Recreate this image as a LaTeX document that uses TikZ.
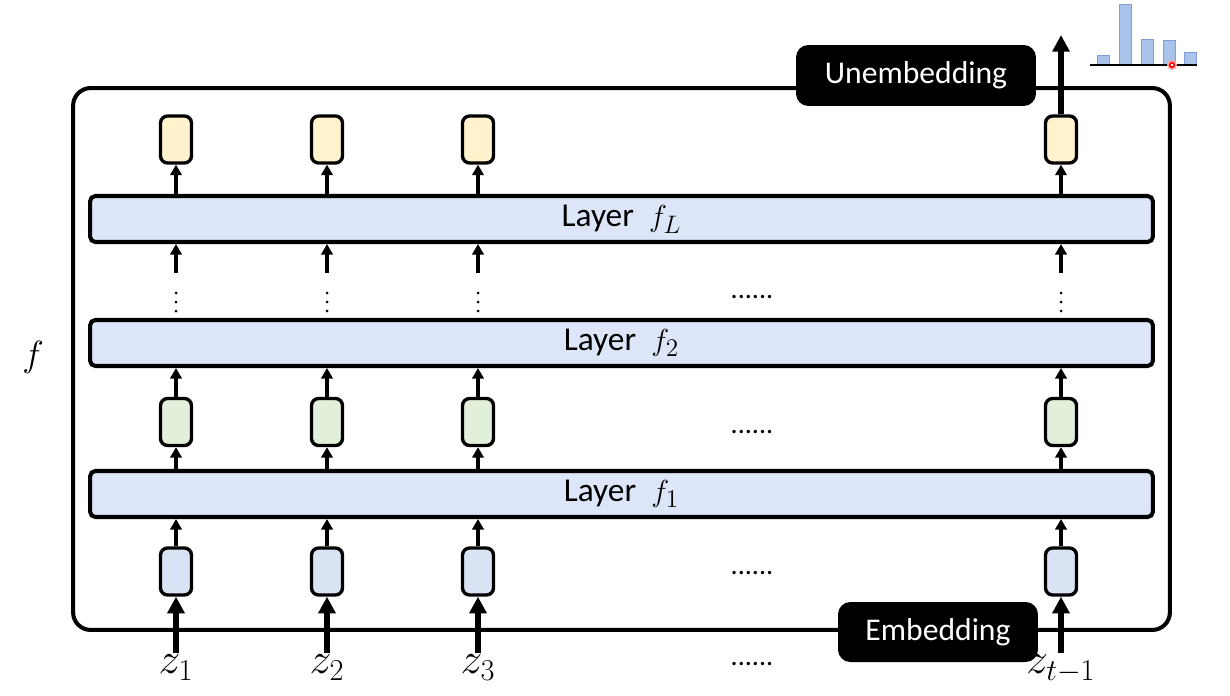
\documentclass[tikz,border=0pt]{standalone}
\usepackage{fontspec}
\usepackage{tikz}
\usetikzlibrary{arrows.meta,calc,positioning}
\newfontfamily\labelfont{Carlito}
\definecolor{layerBlue}{HTML}{DDE6F8}
\definecolor{tokBlue}{HTML}{DAE3F3}
\definecolor{tokGreen}{HTML}{E2EFDA}
\definecolor{tokYellow}{HTML}{FFF2CC}
\definecolor{barBlue}{HTML}{A9C3EA}
\definecolor{barEdge}{HTML}{7F9FD6}

\begin{document}
\begin{tikzpicture}[
    x=0.02cm, y=-0.02cm,
    >={Triangle[length=6pt,width=6.5pt]},
    layer/.style={draw,line width=2.3pt,rounded corners=3pt,fill=layerBlue,
      minimum width=21.26cm,minimum height=0.92cm,inner sep=0pt,
      font=\labelfont\fontsize{19}{22}\selectfont},
    token/.style={draw,line width=1.9pt,rounded corners=4pt,
      minimum width=0.62cm,minimum height=0.94cm,inner sep=0pt},
    tag/.style={fill=black,rounded corners=7pt,text=white,inner sep=0pt,
      font=\labelfont\fontsize{18}{22}\selectfont},
    flow/.style={->,line width=2pt},
    bigflow/.style={-{Triangle[length=9.5pt,width=9.5pt]},line width=3.4pt},
    hdots/.style={font=\labelfont\fontsize{16}{18}\selectfont,inner sep=0pt},
    zlabel/.style={font=\fontsize{23}{25}\selectfont,inner sep=1pt,anchor=north}
  ]
  \useasboundingbox (0,0) rectangle (1230,696);

  % outer frame and the two black tags
  \node[draw,line width=2.3pt,rounded corners=10pt,minimum width=21.94cm,
    minimum height=10.84cm] (frame) at (621.5,359) {};
  \node[tag,minimum width=4.8cm,minimum height=1.22cm] (unemb) at (916,75.5) {Unembedding};
  \node[tag,minimum width=4cm,minimum height=1.2cm] (emb) at (938,632) {Embedding};
  \node[font=\fontsize{22}{24}\selectfont] (fname) at (33,357) {$f$};

  % layers
  \node[layer] (f1) at (621.5,494) {Layer\ \ $f_1$};
  \node[layer] (f2) at (621.5,343) {Layer\ \ $f_2$};
  \node[layer] (fL) at (621.5,219) {Layer\ \ $f_L$};

  % token columns
  \foreach \c/\x/\s in {1/176/1,2/327/2,3/478/3,4/1061/{t-1}} {
    \node[token,fill=tokBlue] (e\c) at (\x,571.5) {};
    \node[token,fill=tokGreen] (m\c) at (\x,422) {};
    \node[token,fill=tokYellow] (o\c) at (\x,139.5) {};
    \foreach \dy in {293,302,311}
      \fill (\x,\dy) circle (1.5);
    \coordinate (s\c) at (\x,273);
    \node[zlabel] (z\c) at (\x,653) {$z_{\s}$};
    \draw[bigflow] (z\c.north) -- (e\c.south);
    \draw[flow] (e\c.north) -- (e\c.north |- f1.south);
    \draw[flow] (m\c.south |- f1.north) -- (m\c.south);
    \draw[flow] (m\c.north) -- (m\c.north |- f2.south);
    \draw[flow] (s\c) -- (s\c |- fL.south);
    \draw[flow] (o\c.south |- fL.north) -- (o\c.south);
  }
  \coordinate (out) at (1061,35);
  \draw[bigflow] (o4.north) -- (out);

  % horizontal dots
  \node[hdots] (d1) at (752,297) {......};
  \node[hdots] (d2) at (752,432) {......};
  \node[hdots] (d3) at (752,573) {......};
  \node[hdots] (d4) at (752,664) {......};

  % output distribution
  \foreach \l/\t in {1097/55,1119/4,1141/39,1163/40,1184/52}
    \draw[fill=barBlue,draw=barEdge,line width=0.5pt] (\l,64) rectangle ({\l+12},\t);
  \draw[line width=1.7pt] (1090,65) -- (1197,65);
  \fill[red!35] (1172,65) circle (5);
  \draw[red,line width=0.9pt,fill=white] (1172,65) circle (2.3);
\end{tikzpicture}
\end{document}
